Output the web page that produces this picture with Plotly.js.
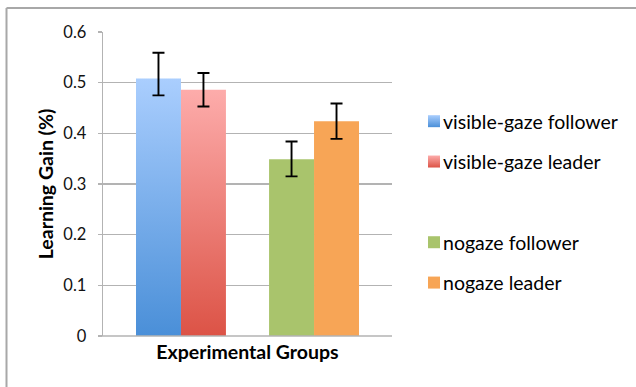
<!DOCTYPE html>
<html>
<head>
<meta charset="utf-8">
<script src="https://cdn.plot.ly/plotly-3.0.1.min.js"></script>
<style>html,body{margin:0;padding:0;background:#fff;}#chart{width:636px;height:387px;}</style>
</head>
<body>
<div id="chart"></div>
<script>
// Data
const groups = ['visible-gaze', 'nogaze'];
const seriesNames = ['visible-gaze follower', 'visible-gaze leader', 'nogaze follower', 'nogaze leader'];
const seriesGroup = ['visible-gaze', 'visible-gaze', 'nogaze', 'nogaze'];
const seriesValues = [0.508, 0.486, 0.349, 0.424];
const errPlus = [0.051, 0.033, 0.035, 0.035];
const errMinus = [0.033, 0.033, 0.034, 0.035];
const yTicks = [0, 0.1, 0.2, 0.3, 0.4, 0.5, 0.6];

const colors = ['#7aaef0', '#ef8580', '#a9c46c', '#f7a556'];
const offsets = [-0.338, 0, -0.338, 0];
const W = 0.338;
const fontFam = 'Lato, "Open Sans", sans-serif';

const traces = [];
for (let i = 0; i < 4; i++) {
  traces.push({
    type: 'bar',
    name: seriesNames[i],
    x: [seriesGroup[i]],
    y: [seriesValues[i]],
    width: W,
    offset: offsets[i],
    marker: {color: colors[i], line: {width: 0}},
    error_y: {type: 'data', symmetric: false, array: [errPlus[i]], arrayminus: [errMinus[i]],
              color: '#000', thickness: 1.9, width: 6},
    legendgroup: 'g' + i,
    hoverinfo: 'skip'
  });
  if (i === 1) {
    traces.push({
      type: 'bar', name: ' ',
      x: [null], y: [null],
      marker: {color: 'rgba(0,0,0,0)'},
      legendgroup: 'blank', showlegend: true, hoverinfo: 'skip'
    });
  }
}

const L = 103, R = 392, T = 32, B = 336;
const pw = R - L, ph = B - T;
const px = v => (v - L) / pw;
const py = v => (B - v) / ph;

const layout = {
  width: 636, height: 387,
  margin: {l: L, r: 636 - R, t: T, b: 387 - B, pad: 0, autoexpand: false},
  paper_bgcolor: '#fff', plot_bgcolor: '#fff',
  barmode: 'overlay',
  showlegend: true,
  font: {family: fontFam, color: '#000', size: 16},
  xaxis: {
    type: 'category', categoryarray: groups, categoryorder: 'array',
    range: [-0.586, 1.586],
    showticklabels: false, ticks: '', showgrid: false, zeroline: false,
    showline: false,
    title: {text: '<b>Experimental Groups</b>', font: {size: 19.5, family: fontFam}, standoff: 9}
  },
  yaxis: {
    range: [0, 0.6], tickvals: yTicks, ticktext: yTicks.map(v => String(v)),
    showgrid: true, gridcolor: '#b3b3b3', gridwidth: 1.3,
    zeroline: false, showline: true, linecolor: '#b3b3b3', linewidth: 1.3,
    ticks: 'outside', ticklen: 4, tickcolor: '#b3b3b3', tickwidth: 1.3,
    ticklabelstandoff: 8,
    tickfont: {size: 16.5, family: fontFam, color: '#111'},
    title: {text: '<b>Learning Gain (%)</b>', font: {size: 19.5, family: fontFam}, standoff: 4}
  },
  legend: {
    x: px(414), y: py(102), xanchor: 'left', yanchor: 'top',
    font: {size: 19.5, family: fontFam, color: '#000'},
    tracegroupgap: 12, itemwidth: 30,
    bgcolor: 'rgba(0,0,0,0)'
  },
  shapes: [
    {type: 'line', xref: 'paper', yref: 'paper', x0: px(6.5), x1: px(640), y0: py(8), y1: py(8),
     line: {color: '#a8a8a8', width: 2}},
    {type: 'line', xref: 'paper', yref: 'paper', x0: px(6.5), x1: px(6.5), y0: py(8), y1: py(392),
     line: {color: '#a8a8a8', width: 2}},
    {type: 'line', xref: 'paper', yref: 'paper', x0: px(99), x1: px(R), y0: 0, y1: 0,
     line: {color: '#b3b3b3', width: 1.3}}
  ]
};

Plotly.newPlot('chart', traces, layout, {displayModeBar: false, staticPlot: true}).then(gd => {
  const svg = gd.querySelector('.main-svg');
  const ns = 'http://www.w3.org/2000/svg';
  let defs = svg.querySelector('defs');
  if (!defs) { defs = document.createElementNS(ns, 'defs'); svg.insertBefore(defs, svg.firstChild); }
  const grads = [['gradBlue', '#aacefe', '#4a8fd8'], ['gradRed', '#fdacab', '#dc5346']];
  grads.forEach(([id, c1, c2]) => {
    const g = document.createElementNS(ns, 'linearGradient');
    g.setAttribute('id', id);
    g.setAttribute('x1', '0'); g.setAttribute('y1', '0'); g.setAttribute('x2', '0'); g.setAttribute('y2', '1');
    [[0, c1], [1, c2]].forEach(([o, c]) => {
      const s = document.createElementNS(ns, 'stop');
      s.setAttribute('offset', o); s.setAttribute('stop-color', c);
      g.appendChild(s);
    });
    defs.appendChild(g);
  });
  const barTraces = gd.querySelectorAll('.barlayer .trace');
  [0, 1].forEach(i => {
    if (barTraces[i]) barTraces[i].querySelectorAll('path').forEach(p => { p.style.fill = 'url(#' + grads[i][0] + ')'; });
  });
  const legTraces = gd.querySelectorAll('.legend .traces');
  [0, 1].forEach(i => {
    if (legTraces[i]) legTraces[i].querySelectorAll('.legendpoints path').forEach(p => { p.style.fill = 'url(#' + grads[i][0] + ')'; });
  });
  // tighten gap between legend swatch and text, as in the reference
  gd.querySelectorAll('.legend .legendtext').forEach(t => {
    const x = parseFloat(t.getAttribute('x')) || 0;
    t.setAttribute('x', x - 11);
  });
});
</script>
</body>
</html>
